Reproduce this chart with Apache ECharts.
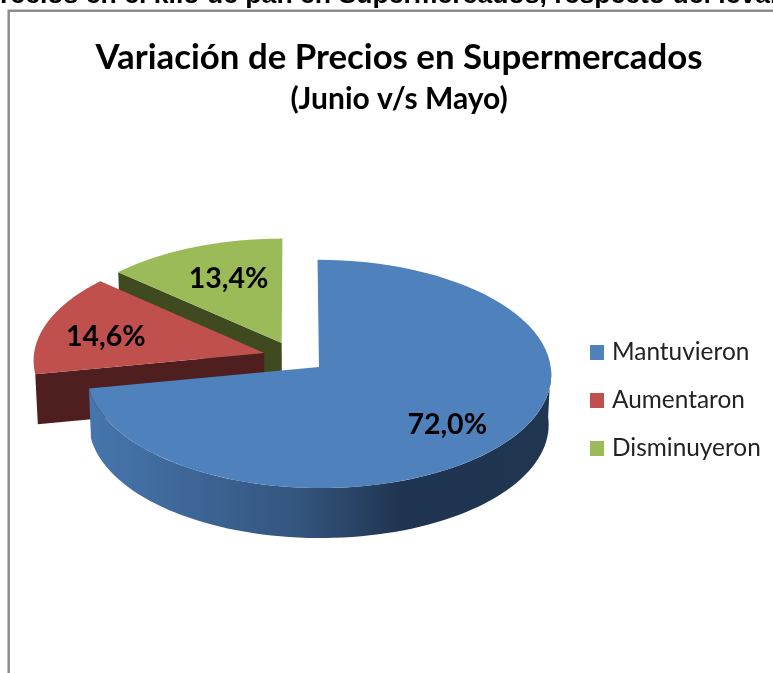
<!DOCTYPE html>
<html>
<head>
<meta charset="utf-8">
<style>
  html, body { margin: 0; padding: 0; background: #fff; }
  #chart { width: 773px; height: 673px; }
</style>
<script src="https://cdn.jsdelivr.net/npm/echarts@6/dist/echarts.min.js"></script>
</head>
<body>
<div id="chart"></div>
<script>
const categories = ["Mantuvieron", "Aumentaron", "Disminuyeron"];
const values = [72.0, 14.6, 13.4];
const valueLabels = ["72,0%", "14,6%", "13,4%"];

const pageHeading = "recios en el kilo de pan en Supermercados, respecto del levantamiento anterior";
const chartTitle = "Variación de Precios en Supermercados";
const chartSubtitle = "(Junio v/s Mayo)";

// colores: tapa, pared
const topColors = ["#4f81bd", "#c0504d", "#9bbb59"];
const wallColors = ["#1f3550", "#4e1f1e", "#3f4a20"];

// geometria del "pie 3D" en perspectiva
const pie = {
  cx: 294.5, cy: 357,
  rx: 230.5, ry: 112.5,
  persp: 0.0614,
  explode: 0.137,
  depth: 50, depthShrink: 0.99
};
const labelFractions = [0.7, 0.72, 0.58];
const labelNudges = [[-1, 6], [-1, 5], [-1, -7]];

const total = values.reduce(function (a, b) { return a + b; }, 0);

// angulo de inicio y fin de cada trozo, a partir de los valores
function sliceAngles(idx) {
  let start = 0;
  for (let i = 0; i < idx; i++) start += values[i];
  return [start / total * Math.PI * 2, (start + values[idx]) / total * Math.PI * 2];
}

// r: radio relativo, mid: angulo medio del trozo (de ahi sale el desplazamiento)
function project(ang, r, mid) {
  const u = Math.sin(ang) * r + pie.explode * Math.sin(mid);
  const v = Math.cos(ang) * r + pie.explode * Math.cos(mid);
  const w = 1 + pie.persp * v;
  return [pie.cx + pie.rx * u / w, pie.cy - pie.ry * v / w];
}

function arcPoints(from, to, mid) {
  const n = 80;
  const pts = [];
  for (let i = 0; i <= n; i++) {
    pts.push(project(from + (to - from) * i / n, 1, mid));
  }
  return pts;
}

// baja un punto a la base de la torta
function toBase(p) {
  return [pie.cx + (p[0] - pie.cx) * pie.depthShrink, p[1] + pie.depth];
}

function poly(points, fill, z2) {
  return {
    type: "polygon",
    z2: z2,
    shape: { points: points },
    style: { fill: fill, stroke: null }
  };
}

function renderSlice(params, api) {
  const idx = api.value(0);
  const ang = sliceAngles(idx);
  const mid = (ang[0] + ang[1]) / 2;
  const apex = project(0, 0, mid);
  const rim = arcPoints(ang[0], ang[1], mid);
  const children = [];

  if (idx === 0) {
    // pared exterior del trozo grande, solo la parte de adelante
    const wallRim = arcPoints(Math.PI / 2, ang[1], mid);
    const wall = wallRim.concat(wallRim.map(toBase).reverse());
    children.push(poly(wall, new echarts.graphic.LinearGradient(0, 0, 1, 0, [
      { offset: 0, color: "#4676ae" },
      { offset: 0.45, color: "#34557e" },
      { offset: 0.68, color: "#1f3450" },
      { offset: 1, color: "#1f3550" }
    ]), 1));
  } else {
    // cara radial que mira hacia adelante
    const edge = project(ang[0], 1, mid);
    children.push(poly([apex, edge, toBase(edge), toBase(apex)], wallColors[idx], 1));
  }

  children.push(poly([apex].concat(rim), topColors[idx], 2));

  const lp = project(mid, labelFractions[idx], mid);
  children.push({
    type: "text",
    z2: 3,
    x: lp[0] + labelNudges[idx][0],
    y: lp[1] + labelNudges[idx][1],
    style: {
      text: valueLabels[idx],
      fill: "#000",
      font: "bold 28.5px Lato",
      textAlign: "center",
      textVerticalAlign: "middle"
    }
  });
  return { type: "group", children: children };
}

// los trozos de atras se dibujan primero
const drawOrder = [2, 1, 0];

const chart = echarts.init(document.getElementById("chart"), null, { renderer: "canvas" });
chart.setOption({
  animation: false,
  backgroundColor: "#fff",
  title: {
    text: chartTitle,
    subtext: chartSubtitle,
    left: 399,
    top: 40,
    padding: 0,
    textAlign: "center",
    itemGap: 9,
    textStyle: { color: "#000", fontFamily: "Lato", fontWeight: "bold", fontSize: 34.8 },
    subtextStyle: { color: "#000", fontFamily: "Lato", fontWeight: "bold", fontSize: 30 }
  },
  legend: {
    orient: "vertical",
    left: 590,
    top: 340.5,
    padding: 0,
    itemWidth: 14,
    itemHeight: 15,
    itemGap: 24,
    icon: "rect",
    selectedMode: false,
    data: categories,
    textStyle: { color: "#222", fontFamily: "Lato", fontSize: 24.4, padding: [0, 0, 0, 3] }
  },
  graphic: [
    {
      type: "text",
      left: 0,
      top: -18,
      style: { text: pageHeading, fill: "#000", font: "bold 26.6px 'Liberation Sans'" }
    },
    {
      type: "polyline",
      shape: { points: [[8.7, 673], [8.7, 10.8], [773, 10.8]] },
      style: { stroke: "#8c8c8c", lineWidth: 2.5, fill: null }
    }
  ],
  series: drawOrder.map(function (i) {
    return {
      name: categories[i],
      type: "custom",
      coordinateSystem: "none",
      renderItem: renderSlice,
      itemStyle: { color: topColors[i] },
      data: [[i, values[i]]],
      z: 5 - i
    };
  })
});
</script>
</body>
</html>
